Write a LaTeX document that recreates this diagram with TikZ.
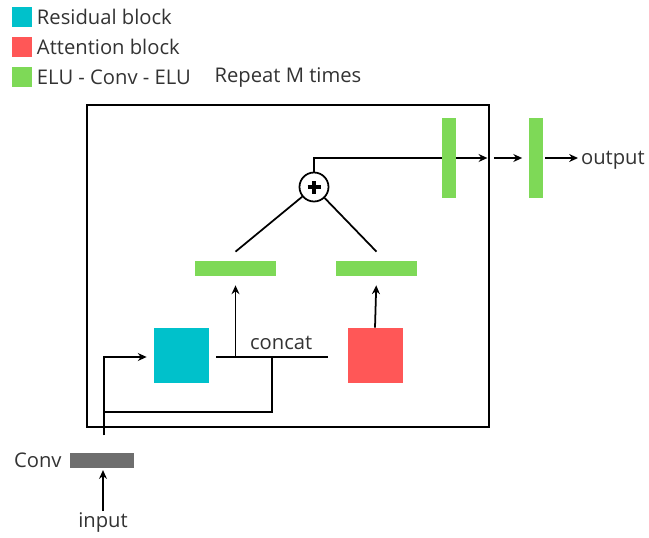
\documentclass[tikz,border=0pt]{standalone}
\usepackage{fontspec}
\setmainfont{Open Sans}
\usetikzlibrary{arrows.meta,positioning,calc}

\definecolor{rescyan}{HTML}{00C1CB}
\definecolor{attred}{HTML}{FF5757}
\definecolor{elugreen}{HTML}{7ED957}
\definecolor{convgray}{HTML}{6E6E6E}
\definecolor{txtgray}{HTML}{333333}

\begin{document}
\begin{tikzpicture}[
  font=\fontsize{11.5}{13}\selectfont, text=txtgray,
  wire/.style   = {line width=1pt},
  arrow/.style  = {line width=1pt, -{Stealth[length=5pt,width=4.5pt]}},
  legsq/.style  = {minimum size=0.4cm, inner sep=0pt},
  legtxt/.style = {right=0.05cm, inner sep=1pt},
  block/.style  = {minimum size=1.1cm, inner sep=0pt},
  hbar/.style   = {fill=elugreen, minimum width=1.62cm, minimum height=0.3cm, inner sep=0pt},
  vbar/.style   = {fill=elugreen, minimum width=0.28cm, minimum height=1.6cm, inner sep=0pt},
  lbl/.style    = {inner sep=1pt},
  addop/.style  = {circle, draw, line width=1pt, minimum size=0.58cm, inner sep=0pt,
                   path picture={
                     \draw[line width=2.2pt] ([xshift=-0.13cm]path picture bounding box.center)
                       -- ([xshift=0.13cm]path picture bounding box.center);
                     \draw[line width=2.2pt] ([yshift=-0.13cm]path picture bounding box.center)
                       -- ([yshift=0.13cm]path picture bounding box.center);}},
]
  \useasboundingbox (0,0) rectangle (12.98,-10.76);

  % legend
  \node[legsq, fill=rescyan] (legres) at (0.44,-0.34) {};
  \node[legtxt, right=0.05cm of legres] (legrestxt) {Residual block};
  \node[legsq, fill=attred] (legatt) at (0.44,-0.94) {};
  \node[legtxt, right=0.05cm of legatt] (legatttxt) {Attention block};
  \node[legsq, fill=elugreen] (legelu) at (0.44,-1.54) {};
  \node[legtxt, right=0.05cm of legelu] (legelutxt) {ELU - Conv - ELU};

  % the repeated part
  \node[draw, wire, minimum width=8.04cm, minimum height=6.44cm] (repeat) at (5.76,-5.32) {};
  \node[lbl] (repeattxt) at (5.76,-1.56) {Repeat M times};

  \node[block, fill=rescyan] (res) at (3.63,-7.11) {};
  \node[block, fill=attred] (att) at (7.50,-7.11) {};
  \node[hbar] (lelu) at (4.71,-5.37) {};
  \node[hbar] (relu) at (7.53,-5.37) {};
  \node[addop] (add) at (6.28,-3.74) {};
  \node[vbar] (elu1) at (8.98,-3.16) {};
  \node[vbar] (elu2) at (10.71,-3.16) {};
  \node[lbl, anchor=west] (output) at (11.58,-3.20) {output};

  % input side
  \node[fill=convgray, minimum width=1.28cm, minimum height=0.3cm, inner sep=0pt] (conv) at (2.04,-9.21) {};
  \node[lbl, left=0.12cm of conv] (convtxt) {Conv};
  \node[lbl] (input) at (2.06,-10.46) {input};

  \coordinate (convout) at (2.08,-8.70);
  \coordinate (skip) at (2.08,-8.24);
  \coordinate (cat) at (5.44,-7.14);

  \draw[arrow, shorten >=1pt] (input) -- (input |- conv.south);
  \draw[wire] (convout) |- (skip) -| (cat);
  \draw[arrow, shorten >=0.14cm] (convout) |- (res.west |- cat);
  \draw[wire] ([xshift=0.14cm]res.east |- cat) -- ([xshift=-0.38cm]att.west |- cat)
    node[lbl, pos=0.58, above=0.1cm] (cattxt) {concat};
  \draw[arrow, shorten >=0.18cm] (lelu.south |- cat) -- (lelu.south);
  \draw[arrow, shorten >=0.18cm] (att.north) -- (relu.south);
  \draw[wire] (add) -- ([yshift=0.18cm]lelu.north);
  \draw[wire] (add) -- ([yshift=0.18cm]relu.north);
  \draw[wire] (add.north) |- (elu1.west);
  \draw[arrow, shorten >=0.05cm] (elu1.east) -- (repeat.east |- elu1);
  \draw[arrow, shorten >=0.12cm] ([xshift=0.08cm]repeat.east |- elu1) -- (elu2.west);
  \draw[arrow, shorten >=0.02cm] ([xshift=0.05cm]elu2.east) -- (output.west |- elu2);
\end{tikzpicture}
\end{document}
